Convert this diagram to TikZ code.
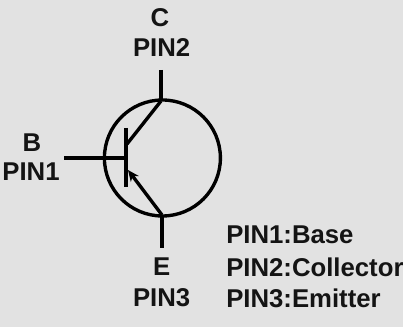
\documentclass[tikz,border=0pt]{standalone}
\usepackage{fontspec}
\usetikzlibrary{arrows.meta}
\setmainfont{Liberation Sans}
\definecolor{panelgray}{HTML}{E2E2E2}
\tikzset{
pinlabel/.style={font=\fontsize{18.3}{18.3}\selectfont\bfseries,inner sep=0pt,text=black!92},
keylabel/.style={pinlabel,anchor=west},
wire/.style={line width=2.4pt},
lead/.style={line width=2.7pt}
}
\begin{document}
\begin{tikzpicture}
\fill[panelgray] (0,0) rectangle (10.075,8.175);
\useasboundingbox (0,0) rectangle (10.075,8.175);
\coordinate (body) at (4.06,4.225);
\coordinate (ctop) at (4.025,5.65);
\coordinate (cend) at (4.025,6.425);
\coordinate (etop) at (4.05,2.8);
\coordinate (eend) at (4.05,1.975);
\coordinate (bend) at (1.6,4.225);
\coordinate (bmid) at (3.15,4.225);
\coordinate (bartop) at (3.15,4.975);
\coordinate (barbot) at (3.15,3.5);
\coordinate (cfoot) at (3.175,4.575);
\coordinate (efoot) at (3.2,3.925);
\draw[wire] (body) circle (1.45cm);
\draw[wire] (ctop) -- (cfoot);
\draw[lead] (cend) -- (ctop);
\draw[lead] (bend) -- (bmid);
\draw[lead] (bartop) -- (barbot);
\draw[lead] (eend) -- (etop);
\draw[wire,-{Stealth[length=8pt,width=7pt]}] (etop) -- (efoot);
\node[pinlabel] (clabel) at (4,7.725) {C};
\node[pinlabel] (cpin) at (4.04,6.975) {PIN2};
\node[pinlabel] (blabel) at (.8,4.6) {B};
\node[pinlabel] (bpin) at (.775,3.875) {PIN1};
\node[pinlabel] (elabel) at (4.04,1.5) {E};
\node[pinlabel] (epin) at (4.04,.725) {PIN3};
\node[keylabel] (keyb) at (5.65,2.3) {PIN1:Base};
\node[keylabel] (keyc) at (5.65,1.5) {PIN2:Collector};
\node[keylabel] (keye) at (5.65,.725) {PIN3:Emitter};
\end{tikzpicture}
\end{document}
